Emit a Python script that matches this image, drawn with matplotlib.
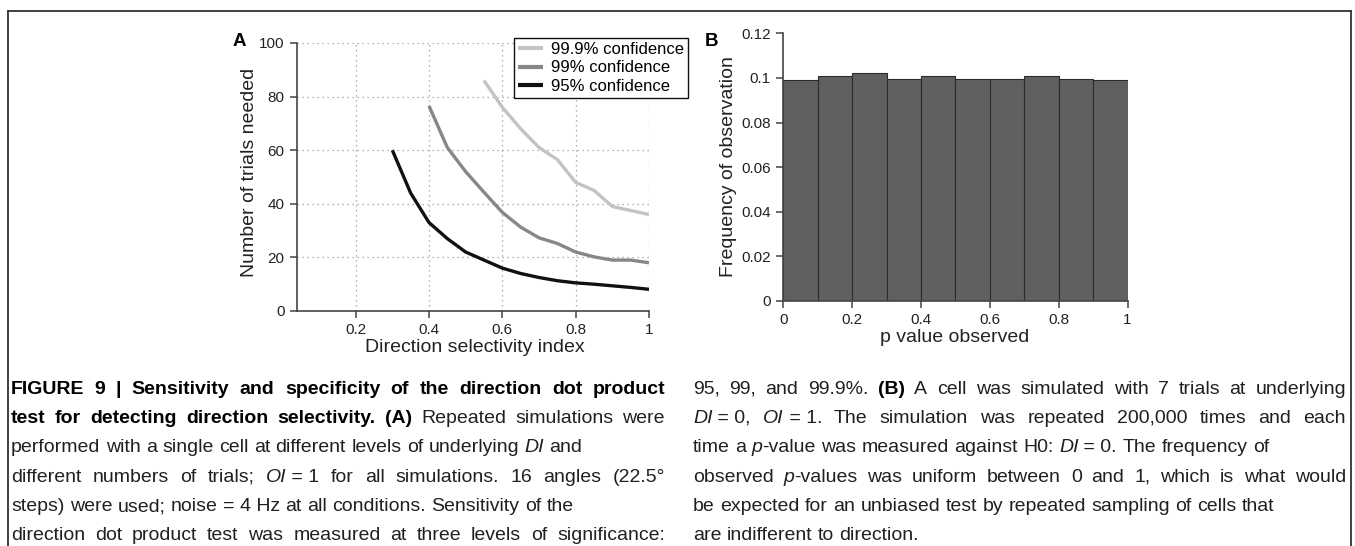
import numpy as np
import matplotlib
matplotlib.use('Agg')
from matplotlib import pyplot as plt
from matplotlib import font_manager
from matplotlib.lines import Line2D
from matplotlib.ticker import FormatStrFormatter

# Panel A: trials needed vs direction selectivity index
di_95 = [0.30, 0.35, 0.40, 0.45, 0.50, 0.55, 0.60, 0.65, 0.70, 0.75,
         0.80, 0.85, 0.90, 0.95, 1.00]
trials_95 = [60, 44, 33, 27, 22, 19, 16, 14, 12.5, 11.3, 10.5, 10, 9.4, 8.8, 8.1]
di_99 = [0.40, 0.45, 0.50, 0.55, 0.60, 0.65, 0.70, 0.75, 0.80, 0.85,
         0.90, 0.95, 1.00]
trials_99 = [76.5, 61, 52, 44.3, 36.8, 31.3, 27.3, 25.2, 22, 20.2, 19, 19, 18]
di_999 = [0.55, 0.60, 0.65, 0.70, 0.75, 0.80, 0.85, 0.90, 0.95, 1.00]
trials_999 = [86, 76, 68, 61, 56.5, 48, 45, 39, 37.5, 36]
series_labels = ['99.9% confidence', '99% confidence', '95% confidence']

# Panel B: histogram of observed p-values
bin_left = [0.0, 0.1, 0.2, 0.3, 0.4, 0.5, 0.6, 0.7, 0.8, 0.9]
bin_freq = [0.099, 0.101, 0.102, 0.0997, 0.101, 0.0997, 0.0997, 0.101,
            0.0997, 0.099]

# Caption lines: (segments, justify) ; style n=normal b=bold i=italic
caption_left = [
    ([("FIGURE 9 | Sensitivity and specificity of the direction dot product", 'b')], True),
    ([("test for detecting direction selectivity. (A)", 'b'),
      (" Repeated simulations were", 'n')], True),
    ([("performed with a single cell at different levels of underlying ", 'n'),
      ("DI", 'i'), (" and", 'n')], False),
    ([("different numbers of trials; ", 'n'), ("OI", 'i'),
      ("\u00a0=\u00a01 for all simulations. 16 angles (22.5°", 'n')], True),
    ([("steps) were used; noise = 4\u00a0Hz at all conditions. Sensitivity of the", 'n')], False),
    ([("direction dot product test was measured at three levels of significance:", 'n')], True),
]
caption_right = [
    ([("95, 99, and 99.9%. ", 'n'), ("(B)", 'b'),
      (" A cell was simulated with 7 trials at underlying", 'n')], True),
    ([("DI", 'i'), ("\u00a0=\u00a00, ", 'n'), ("OI", 'i'),
      ("\u00a0=\u00a01. The simulation was repeated 200,000 times and each", 'n')], True),
    ([("time a ", 'n'), ("p", 'i'), ("-value was measured against H0: ", 'n'),
      ("DI", 'i'), ("\u00a0=\u00a00. The frequency of", 'n')], False),
    ([("observed ", 'n'), ("p", 'i'),
      ("-values was uniform between 0 and 1, which is what would", 'n')], True),
    ([("be expected for an unbiased test by repeated sampling of cells that", 'n')], False),
    ([("are indifferent to direction.", 'n')], False),
]

W, H = 1355, 546
plt.rcParams['font.family'] = ['Liberation Sans', 'DejaVu Sans']
fig = plt.figure(figsize=(W / 100, H / 100), dpi=100, facecolor='white')


def fig_box(left, top, right, bottom):
    return [left / W, 1 - bottom / H, (right - left) / W, (bottom - top) / H]


def style_axes(ax):
    for s in ['top', 'right']:
        ax.spines[s].set_visible(False)
    for s in ['left', 'bottom']:
        ax.spines[s].set_color('#444444')
        ax.spines[s].set_linewidth(1.2)
    ax.tick_params(direction='out', length=5, width=1.1, color='#444444',
                   labelsize=11, labelcolor='#222222', pad=4)


# ---- Panel A
axA = fig.add_axes(fig_box(297, 43, 649, 311))
colors = ['#c3c3c3', '#878787', '#111111']
for xs, ys, c, lab in zip([di_999, di_99, di_95],
                          [trials_999, trials_99, trials_95],
                          colors, series_labels):
    axA.plot(xs, ys, color=c, lw=2.4, label=lab, solid_capstyle='butt')
axA.set_xlim(0.04, 1.0)
axA.set_ylim(0, 100)
axA.set_xticks([0.2, 0.4, 0.6, 0.8, 1.0])
axA.set_yticks([0, 20, 40, 60, 80, 100])
axA.xaxis.set_major_formatter(FormatStrFormatter('%g'))
axA.grid(True, ls=(0, (1, 3)), color='#999999', lw=0.9)
style_axes(axA)
axA.set_xlabel('Direction selectivity index', fontsize=14, color='#222222',
               va='center')
axA.xaxis.set_label_coords(0.506, (311 - 347) / 268)
axA.set_ylabel('Number of trials needed', fontsize=14, color='#222222',
               va='center')
axA.yaxis.set_label_coords((249 - 297) / 352, 0.516)
leg = axA.legend(loc='upper left', bbox_to_anchor=(514 / W, 1 - 38 / H),
                 bbox_transform=fig.transFigure, fontsize=12,
                 handlelength=1.5, handletextpad=0.45, labelspacing=0.2,
                 borderpad=0.25, borderaxespad=0, fancybox=False,
                 framealpha=1, edgecolor='#111111')
leg.get_frame().set_linewidth(1.0)
for h in leg.get_lines():
    h.set_linewidth(3)
fig.text(239 / W, 1 - 42 / H, 'A', fontsize=13.5, fontweight='bold',
         ha='center', va='center')

# ---- Panel B
axB = fig.add_axes(fig_box(783.3, 33.3, 1127.5, 301))
axB.bar(bin_left, bin_freq, width=0.1, align='edge', color='#5f6062',
        edgecolor='#2b2b2b', linewidth=0.8)
axB.set_xlim(0, 1)
axB.set_ylim(0, 0.12)
axB.set_xticks([0, 0.2, 0.4, 0.6, 0.8, 1.0])
axB.set_yticks([0, 0.02, 0.04, 0.06, 0.08, 0.10, 0.12])
axB.xaxis.set_major_formatter(FormatStrFormatter('%g'))
axB.yaxis.set_major_formatter(FormatStrFormatter('%g'))
style_axes(axB)
axB.set_xlabel('p value observed', fontsize=14, color='#222222', va='center')
axB.xaxis.set_label_coords(0.497, (301 - 338) / 267.7)
axB.set_ylabel('Frequency of observation', fontsize=14, color='#222222',
               va='center')
axB.yaxis.set_label_coords((728.3 - 783.3) / 344.2, (301 - 166.7) / 267.7)
fig.text(711.5 / W, 1 - 42 / H, 'B', fontsize=13.5, fontweight='bold',
         ha='center', va='center')

# ---- frame around the figure
frame_kw = dict(color='#333333', lw=1.3, transform=fig.transFigure)
fig.add_artist(Line2D([8 / W, 1351 / W], [1 - 11 / H, 1 - 11 / H], **frame_kw))
fig.add_artist(Line2D([8 / W, 8 / W], [0, 1 - 11 / H], **frame_kw))
fig.add_artist(Line2D([1351 / W, 1351 / W], [0, 1 - 11 / H], **frame_kw))

# ---- caption (justified text drawn word by word)
try:
    font_manager.findfont(font_manager.FontProperties(family='Liberation Sans Narrow'),
                          fallback_to_default=False)
    cap_family = ['Liberation Sans Narrow', 'DejaVu Sans']
    cap_size = 17
except ValueError:
    cap_family = ['Liberation Sans', 'DejaVu Sans']
    cap_size = 14

renderer = fig.canvas.get_renderer()
style_kw = {'n': dict(fontweight='normal', fontstyle='normal', color='#231f20'),
            'b': dict(fontweight='bold', fontstyle='normal', color='#000000'),
            'i': dict(fontweight='normal', fontstyle='italic', color='#231f20')}


def text_width(s, st):
    t = fig.text(0, 0, s, fontsize=cap_size, family=cap_family, **style_kw[st])
    w = t.get_window_extent(renderer).width
    t.remove()
    return w


space_w = text_width('x x', 'n') - text_width('xx', 'n')


def draw_caption(lines, x0, x1, y0, dy):
    for k, (segs, justify) in enumerate(lines):
        tokens = []
        pending = False
        for text, st in segs:
            for i, part in enumerate(text.split(' ')):
                if i > 0:
                    pending = True
                if part:
                    tokens.append((part, st, pending and len(tokens) > 0))
                    pending = False
        widths = [text_width(p, st) for p, st, _ in tokens]
        n_gaps = sum(1 for t in tokens if t[2])
        gap = space_w
        if justify and n_gaps:
            gap = (x1 - x0 - sum(widths)) / n_gaps
        x = x0
        y = y0 + k * dy
        for (p, st, sp), w in zip(tokens, widths):
            if sp:
                x += gap
            fig.text(x / W, 1 - y / H, p, fontsize=cap_size, family=cap_family,
                     va='center', ha='left', **style_kw[st])
            x += w


draw_caption(caption_left, 11, 665, 389, 29.4)
draw_caption(caption_right, 693, 1346, 389, 29.4)

fig.savefig('out.png', dpi=100, facecolor='white')
